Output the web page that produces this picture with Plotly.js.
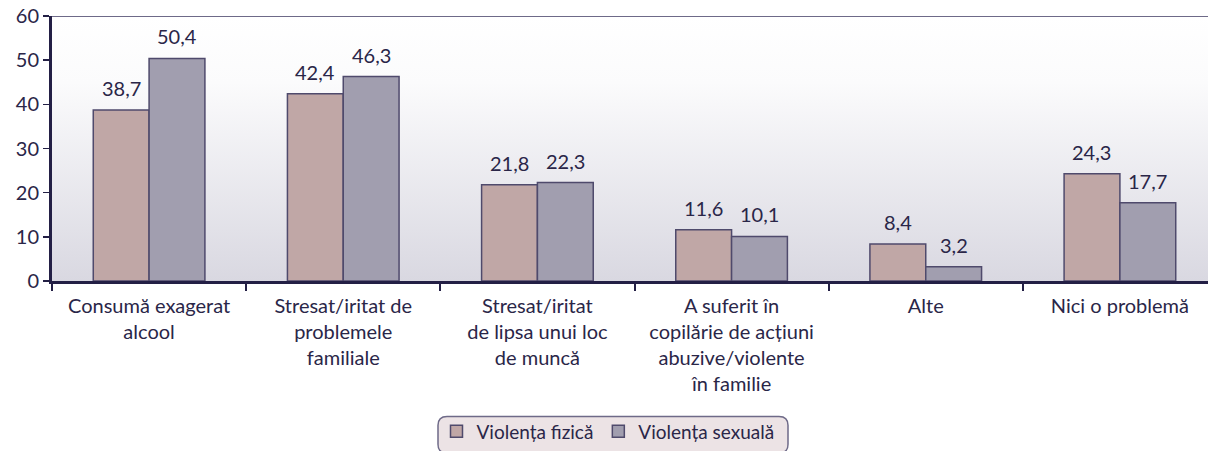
<!DOCTYPE html>
<html>
<head>
<meta charset="utf-8">
<script src="https://cdn.plot.ly/plotly-3.0.1.min.js"></script>
<style>
html,body{margin:0;padding:0;background:#fff;}
#chart{width:1208px;height:451px;}
</style>
</head>
<body>
<div id="chart"></div>
<script>
const categories = [
  "Consumă exagerat<br>alcool",
  "Stresat/iritat de<br>problemele<br>familiale",
  "Stresat/iritat<br>de lipsa unui loc<br>de muncă",
  "A suferit în<br>copilărie de acțiuni<br>abuzive/violente<br>în familie",
  "Alte",
  "Nici o problemă"
];
const seriesNames = ["Violența fizică", "Violența sexuală"];
const fizica = [38.7, 42.4, 21.8, 11.6, 8.4, 24.3];
const sexuala = [50.4, 46.3, 22.3, 10.1, 3.2, 17.7];
const yTicks = [0, 10, 20, 30, 40, 50, 60];

const FONT = "Lato, 'Open Sans', sans-serif";
const TXT = "#2a2648";
const fmt = v => v.toFixed(1).replace('.', ',');

const grad = 'data:image/svg+xml;charset=utf-8,' + encodeURIComponent(
  '<svg xmlns="http://www.w3.org/2000/svg" width="100" height="100" preserveAspectRatio="none">' +
  '<defs><linearGradient id="g" x1="0" y1="0" x2="0" y2="1">' +
  '<stop offset="0" stop-color="#ffffff"/><stop offset="0.25" stop-color="#fbfbfc"/>' +
  '<stop offset="1" stop-color="#d9d8e1"/></linearGradient></defs>' +
  '<rect width="100" height="100" fill="url(#g)"/></svg>');

const BARGAP = 0.425;
const PW = 1156, PH = 268;
const XMAX = 5.5 - 9 / 194.25;
const catPx = PW / (XMAX + 0.5);
const barPx = catPx * (1 - BARGAP) / 2;

const common = {
  type: 'bar',
  x: categories,
  hoverinfo: 'x+y'
};

const traces = [
  Object.assign({}, common, {
    name: seriesNames[0], y: fizica,
    marker: {color: '#c0a7a6', line: {color: '#4f4a6c', width: 1.5}}
  }),
  Object.assign({}, common, {
    name: seriesNames[1], y: sexuala,
    marker: {color: '#a19eaf', line: {color: '#4f4a6c', width: 1.5}}
  })
];

const annotations = [];
[fizica, sexuala].forEach((vals, si) => {
  vals.forEach((v, i) => {
    annotations.push({
      x: categories[i], y: v, xref: 'x', yref: 'y',
      text: fmt(v), showarrow: false,
      xanchor: 'center', yanchor: 'bottom',
      xshift: (si === 0 ? -1 : 1) * barPx / 2,
      yshift: 8,
      font: {family: FONT, size: 20, color: TXT}
    });
  });
});

const px = v => (v - 52) / PW;
const py = v => (284 - v) / PH;
const bx0 = px(438), bx1 = px(788), by0 = py(421), by1 = py(458);
const rx = 9 / PW, ry = 9 / PH;
const boxPath = `M ${bx0+rx},${by0} L ${bx1-rx},${by0} Q ${bx1},${by0} ${bx1},${by0-ry} L ${bx1},${by1+ry} Q ${bx1},${by1} ${bx1-rx},${by1} L ${bx0+rx},${by1} Q ${bx0},${by1} ${bx0},${by1+ry} L ${bx0},${by0-ry} Q ${bx0},${by0} ${bx0+rx},${by0} Z`;

const layout = {
  width: 1208, height: 451,
  margin: {l: 52, r: 0, t: 16, b: 167},
  paper_bgcolor: '#ffffff',
  plot_bgcolor: 'rgba(0,0,0,0)',
  font: {family: FONT, size: 20, color: TXT},
  barmode: 'group',
  bargap: BARGAP,
  bargroupgap: 0,
  showlegend: true,
  legend: {
    orientation: 'h', x: px(608), xanchor: 'center', y: py(436), yanchor: 'middle',
    bgcolor: 'rgba(0,0,0,0)', font: {family: FONT, size: 19, color: TXT},
    itemwidth: 30, traceorder: 'normal'
  },
  xaxis: {
    type: 'category',
    range: [-0.5, XMAX],
    showline: true, linecolor: '#231f45', linewidth: 3,
    ticks: 'outside', tickson: 'boundaries', ticklen: 7, tickwidth: 2, tickcolor: '#231f45',
    tickfont: {family: FONT, size: 20, color: TXT},
    ticklabelstandoff: 5,
    showgrid: false, zeroline: false, fixedrange: true
  },
  yaxis: {
    range: [0, 60],
    tickvals: yTicks, ticktext: yTicks.map(String),
    showline: true, linecolor: '#231f45', linewidth: 3,
    ticks: 'outside', ticklen: 6, tickwidth: 1.5, tickcolor: '#231f45',
    tickfont: {family: FONT, size: 20, color: TXT},
    showgrid: false, zeroline: false, fixedrange: true
  },
  annotations: annotations,
  images: [{
    source: grad, xref: 'paper', yref: 'paper', x: 0, y: 1, sizex: 1, sizey: 1,
    sizing: 'stretch', layer: 'below', xanchor: 'left', yanchor: 'top'
  }],
  shapes: [
    {type: 'line', xref: 'paper', yref: 'y', x0: 0, x1: 1, y0: 60, y1: 60,
     line: {color: '#6e6a88', width: 2}, layer: 'above'},
    {type: 'path', xref: 'paper', yref: 'paper', path: boxPath,
     fillcolor: '#ece3e5', line: {color: '#6e6a88', width: 1.5}, layer: 'below'}
  ]
};

Plotly.newPlot('chart', traces, layout, {displayModeBar: false, staticPlot: true});
</script>
</body>
</html>
